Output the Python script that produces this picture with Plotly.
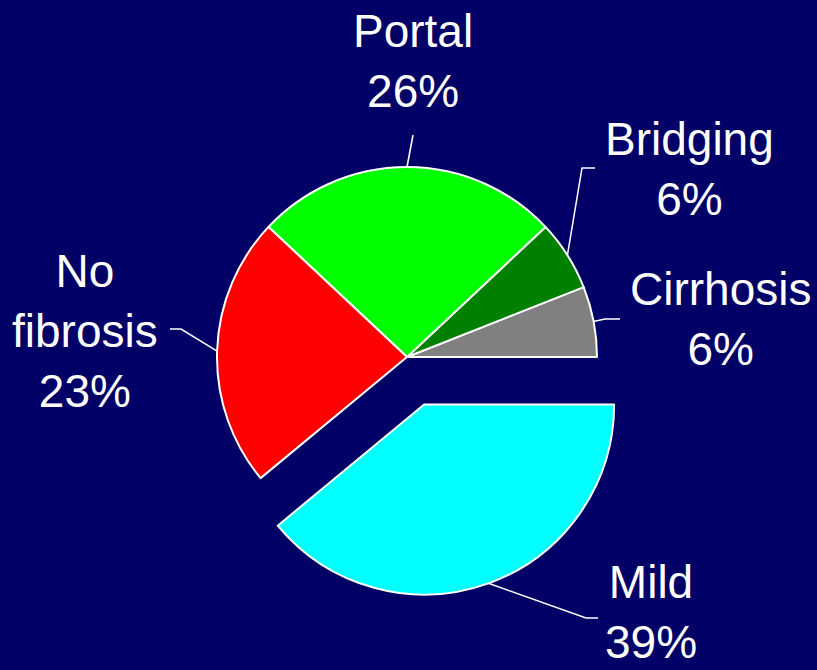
import math
import plotly.graph_objects as go

# ---- data ----
categories = ["Cirrhosis", "Bridging", "Portal", "No<br>fibrosis", "Mild"]
values = [6, 6, 26, 23, 39]
colors = ["#808080", "#008000", "#00FF00", "#FF0000", "#00FFFF"]
pulls = [0, 0, 0, 0, 0.266]

# ---- layout constants (pixels) ----
W, H = 817, 670
CX, CY, R = 407, 357, 190
BG = "#000066"
FONT = "Arial, Liberation Sans, sans-serif"
FS = 46

# label text centre (x, y) and leader line elbow/end points per slice
text_pos = [(720, 319), (689, 169), (413, 61), (85, 331), (651, 612)]
elbows = [(605, 319), (582, 168), (413, 135), (181, 329), (586, 618)]
ends = [(620, 319), (595, 168), (413, 135), (170, 329), (598, 618)]

total = sum(values)
half = R * (1 + max(pulls))
dom_x = [(CX - half) / W, (CX + half) / W]
dom_y = [1 - (CY + half) / H, 1 - (CY - half) / H]

# first slice (Cirrhosis) starts at 3 o'clock and the pie runs counterclockwise
rotation = 90 - 360 * values[0] / total

fig = go.Figure(go.Pie(
    labels=categories,
    values=values,
    sort=False,
    direction="counterclockwise",
    rotation=rotation,
    pull=pulls,
    marker=dict(colors=colors, line=dict(color="white", width=2)),
    textinfo="none",
    hoverinfo="label+percent",
    domain=dict(x=dom_x, y=dom_y),
    showlegend=False,
))

def px(x):
    return x / W

def py(y):
    return 1 - y / H

cum = 0
shapes = []
annotations = []
for i, v in enumerate(values):
    mid = math.radians(360 * (cum + v / 2) / total)
    cum += v
    off = pulls[i] * R
    ax = CX + (R + off) * math.cos(mid)
    ay = CY - (R + off) * math.sin(mid)
    ex, ey = elbows[i]
    fx, fy = ends[i]
    shapes.append(dict(
        type="path", xref="paper", yref="paper",
        path=f"M {px(ax)} {py(ay)} L {px(ex)} {py(ey)} L {px(fx)} {py(fy)}",
        line=dict(color="white", width=1.5),
    ))
    pct = round(100 * v / total)
    tx, ty = text_pos[i]
    annotations.append(dict(
        xref="paper", yref="paper", x=px(tx), y=py(ty),
        xanchor="center", yanchor="middle", showarrow=False,
        text=f"{categories[i]}<br>{pct}%", align="center",
        font=dict(family=FONT, size=FS, color="white"),
    ))

fig.update_layout(
    width=W, height=H,
    margin=dict(l=0, r=0, t=0, b=0),
    paper_bgcolor=BG, plot_bgcolor=BG,
    shapes=shapes, annotations=annotations,
)

fig.write_html(
    "out.html",
    config={"displayModeBar": False},
    post_script="document.body.style.margin='0';document.body.style.overflow='hidden';"
                "document.body.style.background='" + BG + "';",
)
